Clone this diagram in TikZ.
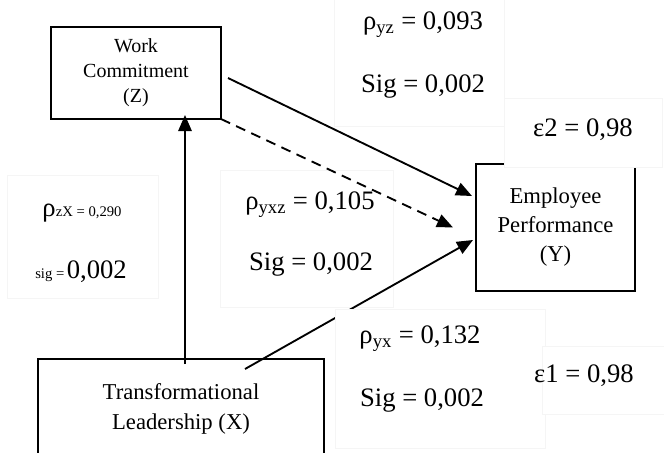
\documentclass[tikz,border=0pt]{standalone}
\usepackage{fontspec}
\setmainfont{Liberation Serif}
\usetikzlibrary{arrows.meta,calc}
\tikzset{
  varbox/.style={draw, line width=1.5pt, align=center, inner sep=0pt, outer sep=0pt},
  lblbox/.style={draw=black!4, line width=0.6pt, inner sep=0pt, outer sep=0pt},
  coverbox/.style={lblbox, fill=white},
  lbl/.style={inner sep=0pt, font=\fontsize{20}{24}\selectfont},
  path/.style={line width=1.4pt, -{Triangle[length=12pt,width=10pt]}},
}
\begin{document}
\begin{tikzpicture}[x=0.75pt,y=-0.75pt]
\useasboundingbox (0,0) rectangle (664,453);
\clip (0,0) rectangle (664,453);
% faint label frames behind the connectors
\node[lblbox, minimum width=113.25pt, minimum height=92.25pt] (bZX) at (82.5,236.5) {};
\node[lblbox, minimum width=129.75pt, minimum height=102.75pt] (bYXZ) at (306.5,238.5) {};
\node[lblbox, minimum width=127.5pt, minimum height=96.75pt] (bYZ) at (419,61.5) {};
% variables
\node[varbox, minimum width=127.5pt, minimum height=69pt,
      font=\fontsize{15}{18.75}\selectfont] (Z) at (136,73) {Work\\Commitment\\(Z)};
\node[varbox, minimum width=119.25pt, minimum height=95.25pt,
      font=\fontsize{17}{21.75}\selectfont] (Y) at (555.5,227.5) {Employee\\Performance\\(Y)};
\node[varbox, minimum width=214.5pt, minimum height=75pt,
      font=\fontsize{17}{22.5}\selectfont] (X) at (181,409) {Transformational\\Leadership (X)};
% connectors
\draw[path] ([shift={(4,5)}]X.north) -- ([shift={(49,-4)}]Z.south);
\draw[path] ([shift={(7,5)}]Z.east) -- ([shift={(-4,-31.5)}]Y.west);
\draw[path, dash pattern=on 7.5pt off 5pt] (Z.south east) -- ([shift={(-23,0)}]Y.west);
\draw[path] ([shift={(64,10)}]X.north) -- ([shift={(-3,12.5)}]Y.west);
% label frames that cover lines
\node[coverbox, minimum width=157.5pt, minimum height=104.25pt] (bYX) at (440,378.5) {};
\node[coverbox, minimum width=118.5pt, minimum height=51.75pt] (bE2) at (583,132.5) {};
\node[coverbox, minimum width=93pt, minimum height=51pt] (bE1) at (604,380) {};
% labels
\node[lbl] (rYZ) at (423,25) {ρ\textsubscript{yz} = 0,093};
\node[lbl] (sYZ) at (423,87) {Sig = 0,002};
\node[lbl] (e2) at (583,130) {ε2 = 0,98};
\node[lbl] (rYXZ) at (310,205) {ρ\textsubscript{yxz} = 0,105};
\node[lbl] (sYXZ) at (311,265) {Sig = 0,002};
\node[lbl] (rZX) at (82,213) {ρ{\fontsize{11}{13}\selectfont zX = 0,290}};
\node[lbl] (sZX) at (81,272) {{\fontsize{11}{13}\selectfont sig =\,}0,002};
\node[lbl] (rYX) at (420,339) {ρ\textsubscript{yx} = 0,132};
\node[lbl] (sYX) at (422,401) {Sig = 0,002};
\node[lbl] (e1) at (584,376) {ε1 = 0,98};
\end{tikzpicture}
\end{document}
